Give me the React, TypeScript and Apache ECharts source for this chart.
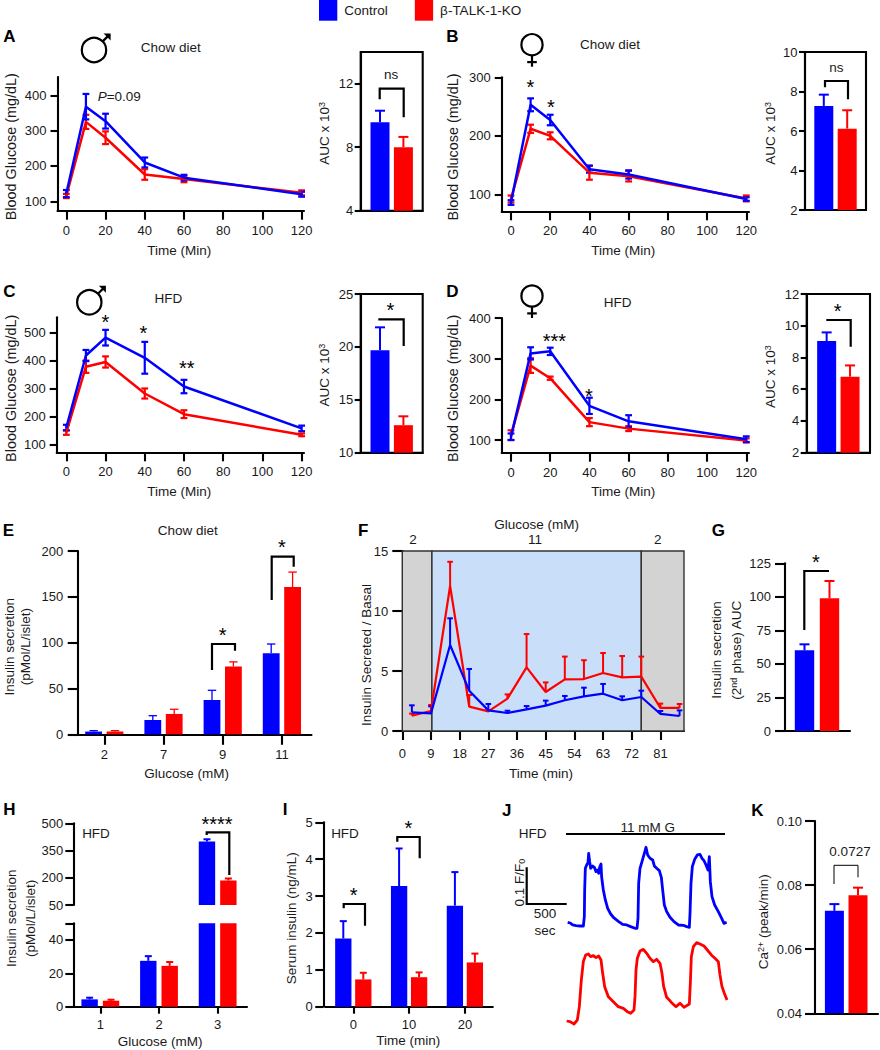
import React, { useEffect, useRef } from "react";
import * as echarts from "echarts";

const BLUE = "#0000FF";
const RED = "#FF0000";
const FONT = '"Liberation Sans", Arial, sans-serif';
const INK = "#1a1a1a";

const CTRL = "Control";
const KO = "β-TALK-1-KO";

// Panels A-D: glucose tolerance
const gttTime = [0, 10, 20, 40, 60, 120];
const aCtrl = [122, 368, 327, 210, 167, 120];
const aCtrlErr = [10, 36, 21, 14, 8, 7];
const aKo = [115, 325, 280, 176, 163, 124];
const aKoErr = [6, 20, 18, 15, 9, 7];
const bCtrl = [86, 253, 227, 143, 134, 92];
const bCtrlErr = [4, 11, 9, 6, 7, 3];
const bKo = [92, 212, 200, 137, 131, 93];
const bKoErr = [6, 7, 6, 12, 9, 5];
const cCtrl = [160, 418, 482, 410, 307, 157];
const cCtrlErr = [10, 20, 28, 57, 24, 10];
const cKo = [142, 378, 395, 282, 208, 134];
const cKoErr = [8, 22, 20, 18, 14, 5];
const dCtrl = [108, 313, 318, 184, 146, 102];
const dCtrlErr = [8, 15, 9, 20, 15, 7];
const dKo = [112, 283, 252, 144, 128, 99];
const dKoErr = [12, 18, 4, 10, 6, 5];

// AUC insets [control, knockout]
const aAuc = [9.58, 8.0];
const aAucErr = [0.72, 0.65];
const bAuc = [7.27, 6.12];
const bAucErr = [0.57, 0.93];
const cAuc = [19.68, 12.6];
const cAucErr = [2.17, 0.84];
const dAuc = [9.04, 6.79];
const dAucErr = [0.54, 0.71];

// Panel E
const eCats = ["2", "7", "9", "11"];
const eCtrl = [3, 15.6, 37.4, 88.4];
const eCtrlErr = [1, 4.7, 10.6, 10.1];
const eKo = [3, 22.2, 74, 160.7];
const eKoErr = [1, 5.1, 5, 16.3];

// Panel F
const fTime = [3, 9, 15, 21, 27, 33, 39, 45, 51, 57, 63, 69, 75, 81, 87];
const fTicks = [0, 9, 18, 27, 36, 45, 54, 63, 72, 81];
const fCtrl = [1.56, 1.47, 7.17, 3.36, 1.72, 1.5, 1.8, 2.11, 2.56, 2.89, 3.11, 2.56, 2.83, 1.42, 1.25];
const fCtrlTop = [2.14, 2.06, 9.39, 5.17, 2.25, 1.69, 2.08, 2.53, 2.92, 3.61, 3.92, 2.89, 3.36, 1.67, 1.72];
const fKo = [1.28, 1.67, 12.08, 2.03, 1.64, 2.7, 5.3, 3.25, 4.3, 4.33, 4.83, 4.47, 4.53, 1.92, 1.92];
const fKoTop = [1.45, 2.17, 14.1, 3.0, 1.75, 3.05, 8.08, 4.05, 6.2, 5.9, 6.5, 6.25, 6.2, 2.28, 2.25];

// Panel G
const gAuc = [60.1, 98.9];
const gAucErr = [4.5, 12.9];

// Panel H
const hCats = ["1", "2", "3"];
const hCtrl = [4.4, 27.5, 400];
const hCtrlErr = [1, 2.8, 12];
const hKo = [3.6, 24.5, 185];
const hKoErr = [0.6, 2.3, 11];

// Panel I
const iCats = ["0", "10", "20"];
const iCtrl = [1.85, 3.27, 2.74];
const iCtrlErr = [0.47, 1.02, 0.91];
const iKo = [0.74, 0.8, 1.2];
const iKoErr = [0.18, 0.13, 0.24];

// Panel J: calcium traces (sample index, signal in arbitrary units)
const jCtrlSample = [203, 210, 218, 228, 240, 250, 253, 254, 256, 260, 264, 266, 269, 272, 278, 283, 288, 292, 296, 299, 303, 305, 310, 316, 323, 332, 342, 355, 368, 380, 392, 405, 411, 414, 416, 420, 426, 433, 438, 443, 450, 458, 463, 470, 478, 484, 488, 493, 500, 510, 522, 535, 550, 560, 568, 570, 573, 577, 584, 592, 600, 606, 612, 618, 624, 628, 631, 636, 644, 655, 665, 672, 680];
const jCtrlSignal = [323, 321, 315, 313, 312, 312, 340, 420, 485, 495, 502, 530, 505, 485, 492, 488, 475, 480, 470, 488, 498, 458, 420, 390, 365, 348, 336, 326, 317, 315, 310, 305, 305, 335, 440, 485, 505, 530, 548, 525, 515, 510, 492, 485, 478, 458, 420, 375, 355, 338, 325, 315, 314, 310, 308, 350, 440, 490, 512, 525, 527, 515, 508, 495, 480, 520, 445, 400, 375, 355, 335, 320, 323];
const jKoSample = [200, 210, 222, 232, 238, 244, 250, 257, 265, 272, 280, 288, 296, 303, 308, 314, 325, 340, 355, 370, 382, 392, 402, 405, 408, 412, 420, 430, 440, 450, 460, 470, 480, 486, 491, 500, 515, 528, 540, 552, 568, 571, 574, 580, 590, 600, 612, 622, 634, 645, 655, 660, 666, 673, 681];
const jKoSignal = [27, 25, 18, 30, 70, 150, 205, 225, 228, 220, 223, 217, 222, 210, 170, 130, 100, 85, 70, 65, 55, 50, 60, 100, 180, 215, 237, 242, 230, 215, 205, 212, 200, 170, 130, 98, 82, 70, 80, 68, 78, 140, 220, 250, 262, 258, 252, 240, 225, 215, 205, 165, 130, 110, 90];

// Panel K
const kRate = [0.07197, 0.0768];
const kRateErr = [0.0021, 0.0024];

const grids: any[] = [];
const xAxes: any[] = [];
const yAxes: any[] = [];
const series: any[] = [];
const graphics: any[] = [];

const AXW = 2.1;
const axisLine = { show: true, onZero: false, lineStyle: { color: "#000", width: AXW } };
const labelStyle = { fontFamily: FONT, fontSize: 13, color: INK };

function addGrid(l: number, t: number, r: number, b: number, frame = false) {
  grids.push({
    left: l, top: t, width: r - l, height: b - t, containLabel: false,
    show: frame, borderColor: "#000", borderWidth: frame ? AXW : 0, backgroundColor: "transparent",
  });
  return grids.length - 1;
}

function addValueY(g: number, min: number, max: number, ticks: number[], margin: number, tickLen: number, offset = 0, opts: any = {}) {
  const labelVals = opts.labelVals || ticks;
  yAxes.push({
    gridIndex: g, type: "value", min, max, offset,
    axisLine, splitLine: { show: false },
    axisTick: { show: true, length: tickLen, customValues: ticks, lineStyle: { color: "#000", width: AXW } },
    axisLabel: {
      ...labelStyle, margin, customValues: labelVals, hideOverlap: false,
      formatter: opts.fmt || ((v: number) => String(v)),
    },
  });
  return yAxes.length - 1;
}

function addValueX(g: number, min: number, max: number, ticks: number[], margin: number, tickLen: number) {
  xAxes.push({
    gridIndex: g, type: "value", min, max, axisLine, splitLine: { show: false },
    axisTick: { show: true, length: tickLen, customValues: ticks, lineStyle: { color: "#000", width: AXW } },
    axisLabel: { ...labelStyle, margin, customValues: ticks, hideOverlap: false, formatter: (v: number) => String(v) },
  });
  return xAxes.length - 1;
}

function addCatX(g: number, cats: string[], margin: number, tickLen: number, visible = true) {
  xAxes.push({
    gridIndex: g, type: "category", data: cats,
    axisLine: { ...axisLine, show: visible },
    splitLine: { show: false },
    axisTick: { show: visible && tickLen > 0, alignWithLabel: true, length: tickLen, lineStyle: { color: "#000", width: AXW } },
    axisLabel: { ...labelStyle, show: visible && tickLen > 0, margin, interval: 0 },
  });
  return xAxes.length - 1;
}

function errorSeries(xi: number, yi: number, data: number[][], color: string, capHalf: number, width: number, dx = 0, both = false) {
  series.push({
    type: "custom", xAxisIndex: xi, yAxisIndex: yi, silent: true, data,
    encode: { x: 0, y: [1, 2] },
    renderItem: (_p: any, api: any) => {
      const a = api.coord([api.value(0), api.value(1)]);
      const b = api.coord([api.value(0), api.value(2)]);
      const x = a[0] + dx;
      const st = { stroke: color, lineWidth: width };
      const kids: any[] = [
        { type: "line", shape: { x1: x, y1: a[1], x2: x, y2: b[1] }, style: st },
        { type: "line", shape: { x1: x - capHalf, y1: b[1], x2: x + capHalf, y2: b[1] }, style: st },
      ];
      if (both) kids.push({ type: "line", shape: { x1: x - capHalf, y1: a[1], x2: x + capHalf, y2: a[1] }, style: st });
      return { type: "group", children: kids };
    },
  });
}

function linePanel(box: number[], yMin: number, yMax: number, yTicks: number[], xMin: number, xMax: number, ctrl: number[], ctrlErr: number[], ko: number[], koErr: number[]) {
  const g = addGrid(box[0], box[1], box[2], box[3]);
  const xi = addValueX(g, xMin, xMax, [0, 20, 40, 60, 80, 100, 120], 13, 9);
  const yi = addValueY(g, yMin, yMax, yTicks, 11, 7);
  const add = (name: string, vals: number[], errs: number[], color: string) => {
    series.push({
      type: "line", name, xAxisIndex: xi, yAxisIndex: yi, symbol: "none", silent: true,
      data: gttTime.map((t, i) => [t, vals[i]]), lineStyle: { color, width: 2.5 }, itemStyle: { color },
    });
    errorSeries(xi, yi, gttTime.map((t, i) => [t, vals[i] - errs[i], vals[i] + errs[i]]), color, 3.4, 2.2, 0, true);
  };
  add(KO, ko, koErr, RED);
  add(CTRL, ctrl, ctrlErr, BLUE);
}

function barPanel(g: number, cats: string[], xi: number, yi: number, ctrl: number[], ctrlErr: number[], ko: number[], koErr: number[], barW: number, gap: number, capHalf: number, errW: number, errFilter?: (hi: number) => boolean) {
  const common = { type: "bar", xAxisIndex: xi, yAxisIndex: yi, barWidth: barW, barGap: `${(gap / barW) * 100}%`, silent: true, clip: true };
  series.push({ ...common, name: CTRL, data: ctrl, itemStyle: { color: BLUE } });
  series.push({ ...common, name: KO, data: ko, itemStyle: { color: RED } });
  const dx = (barW + gap) / 2;
  const mk = (v: number[], e: number[]) =>
    cats.map((_c, i) => [i, v[i], v[i] + e[i]]).filter((d) => (errFilter ? errFilter(d[2]) : true));
  errorSeries(xi, yi, mk(ctrl, ctrlErr), BLUE, capHalf, errW, -dx);
  errorSeries(xi, yi, mk(ko, koErr), RED, capHalf, errW, dx);
}

function aucPanel(box: number[], min: number, max: number, ticks: number[], v: number[], e: number[], margin = 7.5, tick = 6) {
  const g = addGrid(box[0], box[1], box[2], box[3], true);
  const xi = addCatX(g, ["AUC"], 0, 0);
  const yi = addValueY(g, min, max, ticks, margin, tick);
  barPanel(g, ["AUC"], xi, yi, [v[0]], [e[0]], [v[1]], [e[1]], 19, 4.4, 5, 2);
}

// graphic helpers
function txt(text: string, x: number, y: number, o: any = {}) {
  graphics.push({
    type: "text", x, y, rotation: o.rot ? Math.PI / 2 : 0, silent: true,
    style: {
      text, fill: o.color || INK, fontFamily: FONT, fontSize: o.size || 13.5, fontWeight: o.weight || "normal",
      align: o.align || "center", verticalAlign: "middle", rich: o.rich,
    },
  });
}
const ytitle = (t: string, x: number, y: number, rich?: any, size?: number) => txt(t, x, y, { rot: true, rich, size });
const letter = (t: string, x: number, y: number) => txt(t, x, y, { size: 17, weight: "bold", color: "#000" });
const star = (t: string, x: number, y: number) => txt(t, x, y + 4, { size: 20, color: "#000" });
function poly(points: number[][], w = 2.2) {
  graphics.push({ type: "polyline", silent: true, shape: { points }, style: { stroke: "#000", fill: null, lineWidth: w } });
}
function male(cx: number, cy: number) {
  graphics.push({ type: "circle", silent: true, shape: { cx, cy, r: 12.2 }, style: { stroke: "#000", fill: null, lineWidth: 2.2 } });
  poly([[cx + 8.6, cy - 8.6], [cx + 15.6, cy - 15.4]]);
  graphics.push({ type: "polygon", silent: true, shape: { points: [[cx + 9.6, cy - 16.6], [cx + 16.6, cy - 16.6], [cx + 16.6, cy - 9.6]] }, style: { fill: "#000" } });
}
function female(cx: number, cy: number) {
  graphics.push({ type: "circle", silent: true, shape: { cx, cy, r: 10.6 }, style: { stroke: "#000", fill: null, lineWidth: 2.2 } });
  poly([[cx, cy + 10.6], [cx, cy + 22]]);
  poly([[cx - 4.8, cy + 17.4], [cx + 4.8, cy + 17.4]]);
}

const supRich = {
  s: { fontSize: 9, fontFamily: FONT, fill: INK, verticalAlign: "top" },
  n: { fontSize: 13.5, fontFamily: FONT, fill: INK },
  b: { fontSize: 9, fontFamily: FONT, fill: INK, verticalAlign: "bottom" },
  i: { fontSize: 13.5, fontFamily: FONT, fill: INK, fontStyle: "italic" },
};
const AUC = "{n|AUC x 10}{s|3}";

// A
linePanel([57.5, 77, 304, 210.7], 73.4, 452, [100, 200, 300, 400], -4.5, 121.2, aCtrl, aCtrlErr, aKo, aKoErr);
aucPanel([360.7, 52, 422.7, 210.7], 4, 14, [4, 8, 12], aAuc, aAucErr);
// B
linePanel([501.7, 77.3, 749, 211.3], 71, 300, [100, 200, 300], -4.74, 121.4, bCtrl, bCtrlErr, bKo, bKoErr);
aucPanel([805, 52, 866, 210], 2, 10, [2, 4, 6, 8, 10], bAuc, bAucErr);
// C
linePanel([56.7, 317.3, 304, 452.3], 71.4, 555, [100, 200, 300, 400, 500], -4.9, 121.2, cCtrl, cCtrlErr, cKo, cKoErr);
aucPanel([360.7, 294, 422.7, 452.7], 10, 25, [10, 15, 20, 25], cAuc, cAucErr);
// D
linePanel([501.7, 318, 749, 452.7], 68.8, 400, [100, 200, 300, 400], -4.74, 121.4, dCtrl, dCtrlErr, dKo, dKoErr);
aucPanel([806.7, 294, 870, 452.7], 2, 12, [2, 4, 6, 8, 10, 12], dAuc, dAucErr);

// E
{
  const g = addGrid(74.7, 551, 311.5, 734.3);
  const xi = addCatX(g, eCats, 14, 10.5);
  const yi = addValueY(g, 0, 200, [0, 50, 100, 150, 200], 14.7, 10.3, -3.3);
  barPanel(g, eCats, xi, yi, eCtrl, eCtrlErr, eKo, eKoErr, 16.8, 4.6, 4.2, 1.3);
}
// F
{
  const g = addGrid(402.3, 551, 684, 731);
  const xi = addValueX(g, 0, 88.4, fTicks, 15.5, 9);
  const yi = addValueY(g, 0, 15, [0, 5, 10, 15], 14, 10);
  const border = { borderColor: "#333", borderWidth: 1.4 };
  series.push({
    type: "line", xAxisIndex: xi, yAxisIndex: yi, data: [], silent: true, symbol: "none",
    markArea: {
      silent: true, z: 1,
      data: [
        [{ xAxis: 0, yAxis: 0, itemStyle: { color: "#D3D3D3", ...border } }, { xAxis: 9.3, yAxis: 15 }],
        [{ xAxis: 9.3, yAxis: 0, itemStyle: { color: "#C9DEF8", ...border } }, { xAxis: 75, yAxis: 15 }],
        [{ xAxis: 75, yAxis: 0, itemStyle: { color: "#D3D3D3", ...border } }, { xAxis: 88.4, yAxis: 15 }],
      ],
    },
  });
  const add = (name: string, v: number[], top: number[], color: string) => {
    series.push({
      type: "line", name, xAxisIndex: xi, yAxisIndex: yi, symbol: "none", silent: true, z: 3,
      data: fTime.map((t, i) => [t, v[i]]), lineStyle: { color, width: 2.2 }, itemStyle: { color },
    });
    errorSeries(xi, yi, fTime.map((t, i) => [t, v[i], top[i]]), color, 2.8, 2);
  };
  add(KO, fKo, fKoTop, RED);
  add(CTRL, fCtrl, fCtrlTop, BLUE);
}
// G
{
  const g = addGrid(784, 563.3, 850, 731);
  const xi = addCatX(g, ["AUC"], 0, 0);
  const yi = addValueY(g, 0, 125, [0, 25, 50, 75, 100, 125], 14, 10, -1);
  barPanel(g, ["AUC"], xi, yi, [gAuc[0]], [gAucErr[0]], [gAuc[1]], [gAucErr[1]], 19.4, 5.6, 5, 2);
}
// H (broken axis: two grids share the same values)
{
  const gu = addGrid(71, 823.3, 247, 905);
  const xu = addCatX(gu, hCats, 0, 0, false);
  const yu = addValueY(gu, 50, 500, [50, 200, 350, 500], 10, 8, -2.3);
  barPanel(gu, hCats, xu, yu, hCtrl, hCtrlErr, hKo, hKoErr, 16.4, 5, 3.5, 2, (hi) => hi > 50);
  const gl = addGrid(71, 923.3, 247, 1006.7);
  const xl = addCatX(gl, hCats, 11, 7);
  const yl = addValueY(gl, 0, 50, [0, 20, 40, 50], 10, 8, -2.3, { labelVals: [0, 20, 40] });
  barPanel(gl, hCats, xl, yl, hCtrl, hCtrlErr, hKo, hKoErr, 16.4, 5, 3.5, 2, (hi) => hi <= 50);
}
// I
{
  const g = addGrid(325.4, 822.3, 492.8, 1006.7);
  const xi = addCatX(g, iCats, 11, 7);
  const yi = addValueY(g, 0, 5, [0, 1, 2, 3, 4, 5], 10.6, 8, 2.1);
  barPanel(g, iCats, xi, yi, iCtrl, iCtrlErr, iKo, iKoErr, 16.3, 3.7, 3.5, 2);
}
// J
{
  const g = addGrid(566.67, 843.3, 730, 1030);
  xAxes.push({ gridIndex: g, type: "value", min: 200, max: 690, show: false });
  const xi = xAxes.length - 1;
  yAxes.push({ gridIndex: g, type: "value", min: 0, max: 560, show: false });
  const yi = yAxes.length - 1;
  series.push({
    type: "line", xAxisIndex: xi, yAxisIndex: yi, symbol: "none", silent: true,
    data: jCtrlSample.map((t, i) => [t, jCtrlSignal[i]]), lineStyle: { color: BLUE, width: 2.8, join: "round" },
  });
  series.push({
    type: "line", xAxisIndex: xi, yAxisIndex: yi, symbol: "none", silent: true,
    data: jKoSample.map((t, i) => [t, jKoSignal[i]]), lineStyle: { color: RED, width: 2.8, join: "round" },
  });
}
// K
{
  const g = addGrid(814.4, 821, 878, 1013.3);
  const xi = addCatX(g, ["Rate"], 0, 0);
  const yi = addValueY(g, 0.04, 0.1, [0.04, 0.06, 0.08, 0.1], 13, 10, -0.6, { fmt: (v: number) => v.toFixed(2) });
  barPanel(g, ["Rate"], xi, yi, [kRate[0]], [kRateErr[0]], [kRate[1]], [kRateErr[1]], 19, 4.6, 5, 2);
}

// Panel letters
letter("A", 9.3, 36.7); letter("B", 452.3, 36); letter("C", 9.3, 291.7); letter("D", 452.3, 291.7);
letter("E", 8.3, 530.7); letter("F", 363.3, 530.7); letter("G", 718.3, 530.7);
letter("H", 9.3, 809.3); letter("I", 285, 809.3); letter("J", 506.7, 810); letter("K", 757.3, 810);

// Panel A-D annotations
male(94, 50); female(532, 44.7); male(89.3, 302.3); female(532, 296);
txt("Chow diet", 170.7, 47); txt("Chow diet", 610, 44.3); txt("HFD", 168.3, 298); txt("HFD", 617.7, 302);
for (const [x, y] of [[10.7, 146.7], [453.3, 147], [10.7, 388.3], [453.3, 388.3]]) ytitle("Blood Glucose (mg/dL)", x, y, undefined, 14.4);
for (const [x, y] of [[179.3, 250.7], [623.3, 250.7], [179.3, 491.7], [623.3, 491.7]]) txt("Time (Min)", x, y);
for (const [x, y] of [[324, 133.3], [770, 133.3], [324, 375], [770, 376.7]]) ytitle(AUC, x, y, supRich);
graphics.push({
  type: "text", x: 97.7, y: 96.7, silent: true,
  style: { text: "{i|P}{n|=0.09}", rich: supRich, align: "left", verticalAlign: "middle" },
});
txt("ns", 391, 74.7); poly([[379.7, 99.3], [379.7, 88.7], [403.7, 88.7], [403.7, 117.3]]);
txt("ns", 836.3, 67.3); poly([[825, 87.3], [825, 81], [848, 81], [848, 99.3]]);
star("*", 390.3, 306); poly([[378.3, 319.3], [403.7, 319.3], [403.7, 346]]);
star("*", 837.7, 307.3); poly([[826.3, 320], [850.7, 320], [850.7, 346.7]]);
star("*", 530.3, 83.3); star("*", 551, 103.3);
star("*", 105.3, 317.7); star("*", 143.3, 328.7); star("**", 186.7, 364);
star("***", 554.3, 337.3); star("*", 589, 391.7);

// E annotations
txt("Chow diet", 187.7, 530.3); txt("Glucose (mM)", 186.7, 773.3);
ytitle("Insulin secretion", 9.5, 646.7); ytitle("(pMol/L/islet)", 25, 646.7);
poly([[212, 670], [212, 644], [235, 644], [235, 650.7]]); star("*", 222.7, 630.7);
poly([[271.7, 600], [271.7, 556.7], [293.7, 556.7], [293.7, 566.7]]); star("*", 282, 543.3);

// F annotations
txt("Glucose (mM)", 536.7, 524.7); txt("2", 413, 539); txt("11", 535, 539); txt("2", 657.7, 539);
txt("Time (min)", 541, 773.3); ytitle("Insulin Secreted / Basal", 366.7, 655);

// G annotations
ytitle("Insulin secretion", 716.7, 650);
ytitle("{n|(2}{s|nd}{n| phase) AUC}", 736.7, 650, supRich);
poly([[804.3, 630], [804.3, 571], [829, 571]]); star("*", 816, 557.7);

// H annotations
txt("HFD", 96, 833.3); txt("Glucose (mM)", 160, 1041.7);
ytitle("Insulin secretion", 11.7, 918.3); ytitle("(pMol/L/islet)", 30, 918.3);
poly([[206.7, 835], [206.7, 832.3], [229.3, 832.3], [229.3, 875]]);
star("****", 217, 820);

// I annotations
txt("HFD", 345, 833.3); txt("Time (min)", 408.3, 1040); ytitle("Serum insulin (ng/mL)", 291.7, 918.3);
poly([[343.7, 908.3], [343.7, 904], [365, 904], [365, 925.7]]); star("*", 353.7, 891);
poly([[397.3, 841.7], [397.3, 837], [419.7, 837], [419.7, 858.3]]); star("*", 408.3, 824);

// J annotations
txt("HFD", 532.7, 833.3); txt("11 mM G", 647.7, 827.7); poly([[566, 834], [725, 834]]);
poly([[526.7, 867.3], [526.7, 904], [566.7, 904]]);
ytitle("{n|0.1 F/F}{b|0}", 519, 882.7, supRich); txt("500", 545, 913.7); txt("sec", 545, 930);

// K annotations
txt("0.0727", 850, 851); poly([[834, 884], [834, 865.3], [858, 865.3], [858, 877.3]], 1);
ytitle("{n|Ca}{s|2+}{n| (peak/min)}", 763, 921.7, supRich);

const option: any = {
  animation: false,
  backgroundColor: "#fff",
  legend: {
    left: 319, top: 0, padding: 0, itemWidth: 18.3, itemHeight: 20.7, itemGap: 27, selectedMode: false,
    textStyle: { ...labelStyle, fontSize: 13.5, padding: [0, 0, 0, 2] },
    data: [
      { name: CTRL, icon: "rect", itemStyle: { color: BLUE } },
      { name: KO, icon: "rect", itemStyle: { color: RED } },
    ],
  },
  grid: grids,
  xAxis: xAxes,
  yAxis: yAxes,
  series,
  graphic: { elements: graphics },
};

export default function App() {
  const ref = useRef<HTMLDivElement>(null);
  useEffect(() => {
    const chart = echarts.init(ref.current!, undefined, { renderer: "svg" });
    chart.setOption(option);
    return () => chart.dispose();
  }, []);
  return <div ref={ref} style={{ position: "absolute", left: 0, top: 0, width: 880, height: 1050 }} />;
}
